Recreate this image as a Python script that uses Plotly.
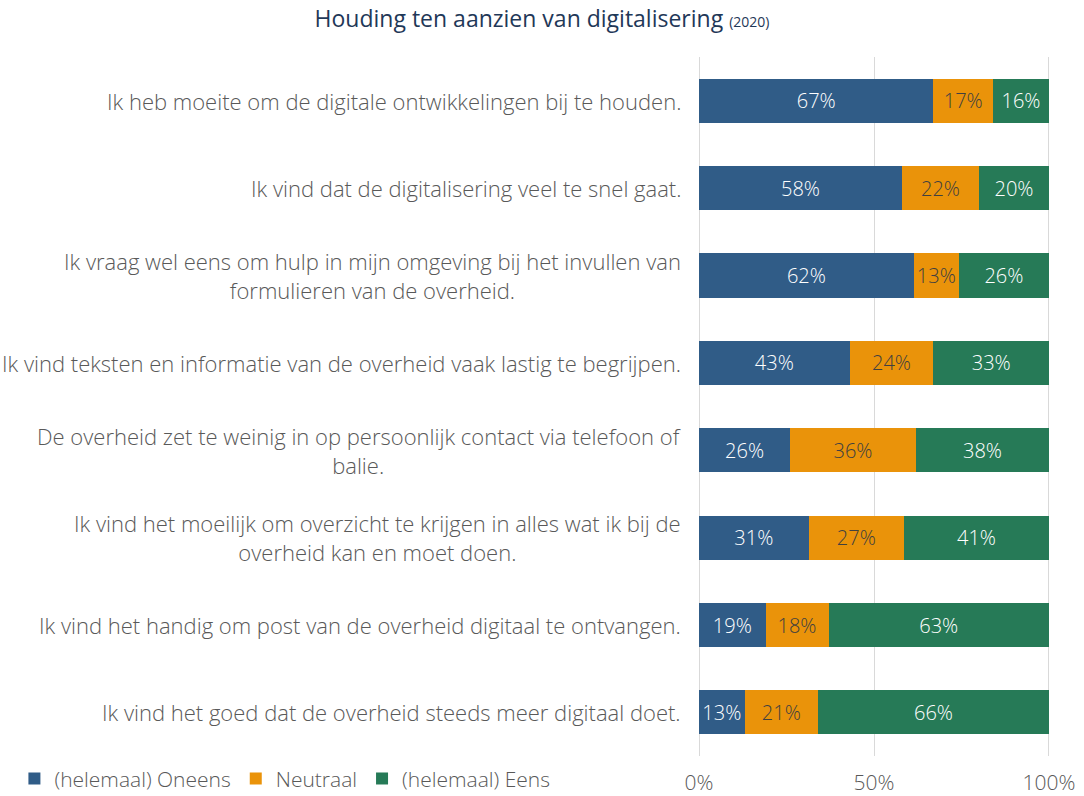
import plotly.graph_objects as go

categories = [
    "Ik heb moeite om de digitale ontwikkelingen bij te houden.",
    "Ik vind dat de digitalisering veel te snel gaat.",
    "Ik vraag wel eens om hulp in mijn omgeving bij het invullen van<br>formulieren van de overheid.",
    "Ik vind teksten en informatie van de overheid vaak lastig te begrijpen.",
    "De overheid zet te weinig in op persoonlijk contact via telefoon of<br>balie.",
    "Ik vind het moeilijk om overzicht te krijgen in alles wat ik bij de<br>overheid kan en moet doen.",
    "Ik vind het handig om post van de overheid digitaal te ontvangen.",
    "Ik vind het goed dat de overheid steeds meer digitaal doet.",
]
oneens = [67, 58, 62, 43, 26, 31, 19, 13]
neutraal = [17, 22, 13, 24, 36, 27, 18, 21]
eens = [16, 20, 26, 33, 38, 41, 63, 66]

series = [
    ("(helemaal) Oneens", oneens, "#305C87", "#FFFFFF"),
    ("Neutraal", neutraal, "#EA930A", "#404040"),
    ("(helemaal) Eens", eens, "#267A57", "#FFFFFF"),
]

FONT = "Open Sans"
LBL = 22
fig = go.Figure()
for name, vals, color, tcol in series:
    fig.add_trace(go.Bar(
        y=categories, x=vals, name=name, orientation="h",
        marker=dict(color=color, line=dict(width=0)),
        text=[f"{v}%" for v in vals], textposition="inside",
        insidetextanchor="middle", textangle=0,
        textfont=dict(family=FONT, size=21, color=tcol, weight=300),
        hoverinfo="skip",
    ))

for c in categories:
    fig.add_annotation(
        x=0, y=c, xref="paper", yref="y", xanchor="right", yanchor="middle",
        xshift=-15, text=c, showarrow=False, align="center",
        font=dict(family=FONT, size=LBL, color="#595959", weight=300),
    )

fig.update_layout(
    barmode="stack", barnorm="percent", bargap=0.495,
    width=1084, height=796,
    margin=dict(l=698, r=34, t=57, b=40, autoexpand=False),
    paper_bgcolor="white", plot_bgcolor="white",
    title=dict(
        text="Houding ten aanzien van digitalisering <span style='font-size:14px'>(2020)</span>",
        x=0.5, xanchor="center", y=0.976, yanchor="middle",
        font=dict(family=FONT, size=23, color="#1F3858"),
    ),
    font=dict(family=FONT, color="#595959"),
    uniformtext=dict(mode="show", minsize=10),
    legend=dict(
        orientation="h", xref="paper", yref="paper",
        x=-1.942, y=-0.062, xanchor="left", yanchor="bottom",
        font=dict(family=FONT, size=21, color="#595959", weight=300),
        itemwidth=30, traceorder="normal",
    ),
    showlegend=True,
)
fig.update_xaxes(
    range=[-0.3, 100.3], tickvals=[0, 50, 100], ticktext=["0%", "50%", "100%"],
    showgrid=True, gridcolor="#D9D9D9", gridwidth=1, zeroline=False,
    showline=False, ticks="", ticklabelstandoff=12,
    tickfont=dict(family=FONT, size=21, color="#595959", weight=300),
)
fig.update_yaxes(autorange="reversed", showticklabels=False, showgrid=False,
                 zeroline=False, showline=False, ticks="")

fig.write_html("out.html", config={"displayModeBar": False},
               post_script="document.body.style.margin='0';")
